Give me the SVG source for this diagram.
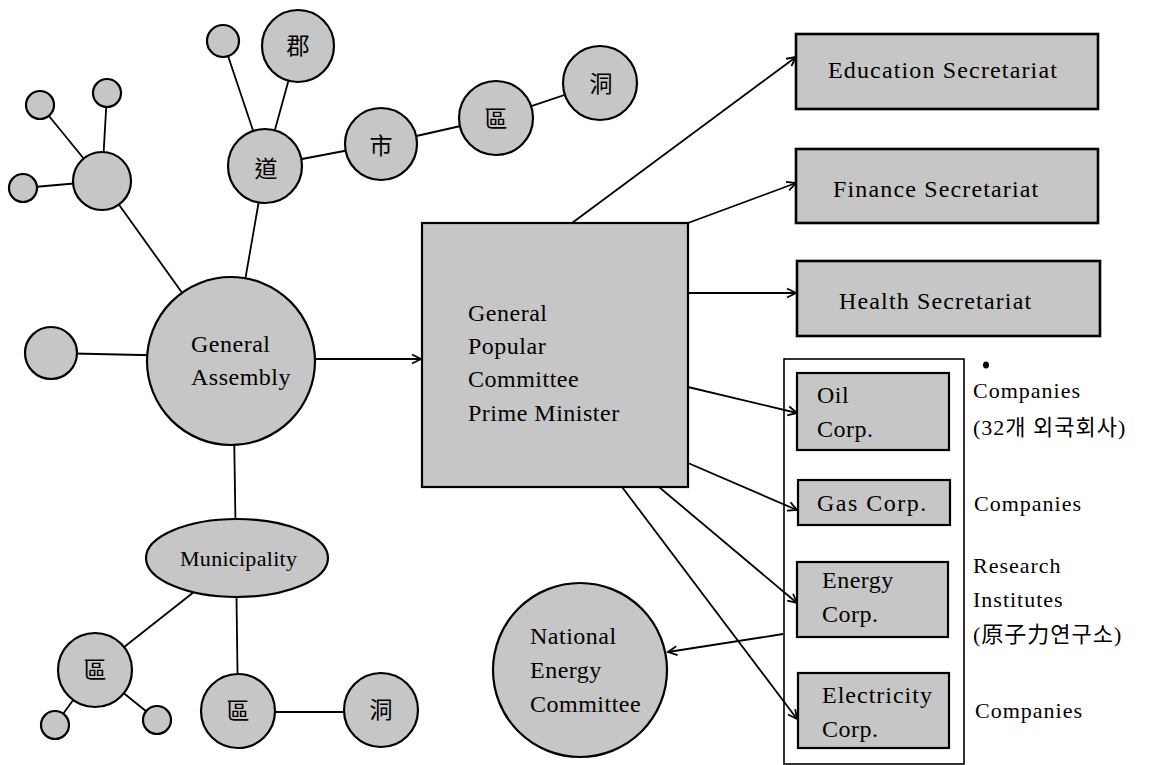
<svg xmlns="http://www.w3.org/2000/svg" width="1150" height="765" viewBox="0 0 1150 765">
<defs>
<style>
.n{fill:#c6c6c6;stroke:#000;stroke-width:2.2}
.c{fill:none;stroke:#000;stroke-width:1.8}
.t{font-family:"Liberation Serif",serif;font-size:24px;letter-spacing:0.5px;fill:#000}
.s{letter-spacing:1.15px}
.k{font-family:"Noto Sans CJK TC","Noto Sans CJK KR",sans-serif;font-size:23px;fill:#000;text-anchor:middle}
.r{font-family:"Liberation Serif","Noto Sans CJK KR",serif;font-size:22px;letter-spacing:1px;fill:#000}
</style>
<marker id="ah" markerUnits="userSpaceOnUse" markerWidth="12" markerHeight="12" refX="10" refY="5" orient="auto" viewBox="0 0 12 10">
<path d="M1,0.5 L10,5 L1,9.5" fill="none" stroke="#000" stroke-width="1.8"/>
</marker>
</defs>
<rect width="1150" height="765" fill="#fff"/>
<g id="connectors" class="c">
<line x1="102" y1="181" x2="40" y2="105"/>
<line x1="102" y1="181" x2="107" y2="93"/>
<line x1="102" y1="181" x2="23" y2="188"/>
<line x1="102" y1="181" x2="231" y2="361"/>
<line x1="265" y1="166" x2="223" y2="41"/>
<line x1="265" y1="166" x2="298" y2="46"/>
<line x1="265" y1="166" x2="381" y2="144"/>
<line x1="265" y1="166" x2="231" y2="361"/>
<line x1="381" y1="144" x2="496" y2="118"/>
<line x1="496" y1="118" x2="600" y2="83"/>
<line x1="51" y1="353" x2="231" y2="357"/>
<line x1="233" y1="361" x2="236" y2="558"/>
<line x1="237" y1="558" x2="95" y2="670"/>
<line x1="95" y1="670" x2="55" y2="725"/>
<line x1="95" y1="670" x2="157" y2="720"/>
<line x1="236" y1="558" x2="238" y2="711"/>
<line x1="238" y1="712" x2="381" y2="712"/>
<line x1="315" y1="359" x2="421" y2="359" marker-end="url(#ah)"/>
<line x1="572" y1="223" x2="796" y2="57" marker-end="url(#ah)"/>
<line x1="688" y1="223" x2="796" y2="183" marker-end="url(#ah)"/>
<line x1="688" y1="293" x2="796" y2="293" marker-end="url(#ah)"/>
<line x1="688" y1="387" x2="797" y2="413" marker-end="url(#ah)"/>
<line x1="688" y1="463" x2="797" y2="510" marker-end="url(#ah)"/>
<line x1="659" y1="487" x2="797" y2="603" marker-end="url(#ah)"/>
<line x1="622" y1="487" x2="797" y2="719" marker-end="url(#ah)"/>
<line x1="783" y1="634" x2="668" y2="652" marker-end="url(#ah)"/>
</g>
<g id="hub"><circle class="n" cx="102" cy="181" r="29"/></g>
<g id="s1"><circle class="n" cx="40" cy="105" r="14"/></g>
<g id="s2"><circle class="n" cx="107" cy="93" r="14"/></g>
<g id="s3"><circle class="n" cx="23" cy="188" r="14"/></g>
<g id="s4"><circle class="n" cx="223" cy="41" r="16"/></g>
<g id="gun"><circle class="n" cx="298" cy="46" r="36"/><text class="k" x="298" y="54">郡</text></g>
<g id="do"><circle class="n" cx="265" cy="166" r="37"/><text class="k" x="266" y="177">道</text></g>
<g id="si"><circle class="n" cx="381" cy="144" r="36"/><text class="k" x="381" y="154">市</text></g>
<g id="gu1"><circle class="n" cx="496" cy="118" r="37"/><text class="k" x="496" y="127">區</text></g>
<g id="dong1"><circle class="n" cx="600" cy="83" r="37"/><text class="k" x="601" y="92">洞</text></g>
<g id="s5"><circle class="n" cx="51" cy="353" r="26"/></g>
<g id="ga"><circle class="n" cx="231" cy="361" r="84"/><text class="t" x="191" y="352">General</text><text class="t" x="191" y="385">Assembly</text></g>
<g id="muni"><ellipse class="n" cx="237" cy="558" rx="91" ry="39"/><text class="t" x="180" y="566" style="font-size:22px;letter-spacing:0.3px">Municipality</text></g>
<g id="gu2"><circle class="n" cx="95" cy="670" r="37"/><text class="k" x="95" y="678">區</text></g>
<g id="s6"><circle class="n" cx="55" cy="725" r="14"/></g>
<g id="s7"><circle class="n" cx="157" cy="720" r="14"/></g>
<g id="gu3"><circle class="n" cx="238" cy="711" r="37"/><text class="k" x="238" y="719">區</text></g>
<g id="dong2"><circle class="n" cx="381" cy="710" r="37"/><text class="k" x="381" y="718">洞</text></g>
<g id="gpc"><rect class="n" x="422" y="223" width="266" height="264"/>
<text class="t" x="468" y="321">General</text><text class="t" x="468" y="354">Popular</text><text class="t" x="468" y="387">Committee</text><text class="t" x="468" y="421">Prime Minister</text></g>
<g id="edu"><rect class="n" x="796" y="34" width="302" height="75" style="stroke-width:2.6"/><text class="t s" x="828" y="78">Education Secretariat</text></g>
<g id="fin"><rect class="n" x="796" y="149" width="302" height="74" style="stroke-width:2.6"/><text class="t s" x="833" y="197">Finance Secretariat</text></g>
<g id="health"><rect class="n" x="797" y="261" width="303" height="75" style="stroke-width:2.6"/><text class="t s" x="839" y="309">Health Secretariat</text></g>
<g id="container"><rect x="784" y="359" width="180" height="405" fill="none" stroke="#000" stroke-width="1.6"/></g>
<g id="oil"><rect class="n" x="797" y="373" width="152" height="77"/><text class="t" x="817" y="403">Oil</text><text class="t" x="817" y="437">Corp.</text></g>
<g id="gas"><rect class="n" x="798" y="480" width="152" height="45"/><text class="t" x="817" y="511" style="letter-spacing:1.5px">Gas Corp.</text></g>
<g id="energy"><rect class="n" x="797" y="562" width="151" height="75"/><text class="t" x="822" y="588">Energy</text><text class="t" x="822" y="622">Corp.</text></g>
<g id="elec"><rect class="n" x="798" y="673" width="151" height="75"/><text class="t" x="822" y="703" style="letter-spacing:1px">Electricity</text><text class="t" x="822" y="737">Corp.</text></g>
<g id="nec"><circle class="n" cx="580" cy="670" r="87"/><text class="t" x="530" y="644">National</text><text class="t" x="530" y="678">Energy</text><text class="t" x="530" y="712">Committee</text></g>
<g id="labels">
<ellipse cx="986" cy="365" rx="3" ry="3.5" fill="#000"/>
<text class="r" x="973" y="398">Companies</text>
<text class="r" x="973" y="435">(32개 외국회사)</text>
<text class="r" x="974" y="511">Companies</text>
<text class="r" x="973" y="573">Research</text>
<text class="r" x="973" y="607">Institutes</text>
<text class="r" x="973" y="642">(原子力연구소)</text>
<text class="r" x="975" y="718">Companies</text>
</g>
</svg>
